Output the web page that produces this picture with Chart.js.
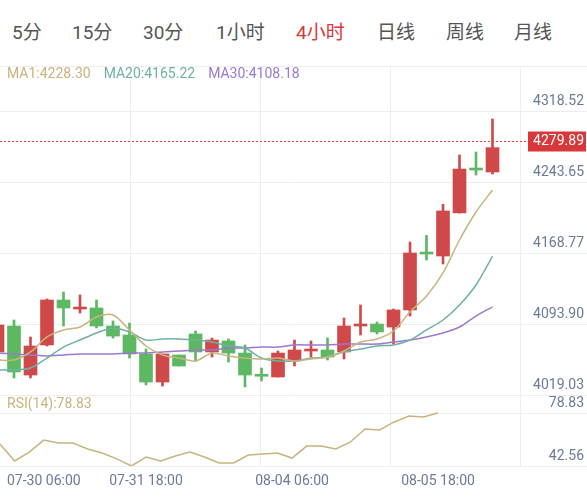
<!DOCTYPE html>
<html><head><meta charset="utf-8">
<script src="https://cdn.jsdelivr.net/npm/chart.js@4.4.0/dist/chart.umd.min.js"></script>
<style>
body{margin:0;background:#fff;width:587px;height:498px;overflow:hidden;font-family:Roboto,"Noto Sans CJK SC",sans-serif;position:relative}
#tabs span{position:absolute;top:17px;font-size:19px;color:#555;font-family:Roboto,"Noto Sans CJK SC",sans-serif}
#main{position:absolute;left:0;top:66px}
#rsi{position:absolute;left:0;top:395px}
</style></head><body>
<div id="tabs"></div>
<canvas id="main" width="587" height="329"></canvas>
<canvas id="rsi" width="587" height="103"></canvas>
<script>
const tabs=["5分","15分","30分","1小时","4小时","日线","周线","月线"];
const activeTab="4小时";
const open_ =[4064.4,4091.8,4040.1,4071.8,4119.2,4109.7,4110.8,4091.8,4082.3,4062.3,4032.7,4061.2,4083.4,4064.4,4076.0,4063.3,4040.0,4038.0,4054.9,4065.4,4066.5,4064.4,4091.8,4093.9,4090.7,4108.7,4168.8,4165.6,4211.1,4257.3,4254.2];
const close_=[4092.8,4043.3,4070.7,4119.2,4110.8,4111.8,4091.8,4081.2,4062.3,4032.7,4062.3,4049.6,4064.4,4077.0,4063.3,4040.1,4038.8,4063.3,4066.5,4066.5,4059.1,4091.8,4093.9,4085.5,4108.7,4168.8,4167.7,4213.1,4257.3,4256.3,4279.89];
const high_ =[4098.1,4098.1,4080.2,4120.3,4127.6,4124.5,4119.2,4097.1,4094.9,4067.5,4062.3,4061.2,4086.5,4079.1,4078.1,4071.8,4047.5,4065.4,4077.0,4076.0,4079.1,4100.2,4114.0,4096.0,4109.7,4180.4,4187.3,4220.1,4272.1,4275.3,4310.1];
const low_  =[4059.1,4037.0,4037.0,4070.7,4091.8,4105.5,4089.7,4079.1,4058.0,4029.6,4028.5,4049.6,4054.9,4059.1,4053.8,4027.5,4033.8,4038.0,4049.6,4059.1,4055.9,4057.0,4082.3,4083.4,4072.8,4102.3,4161.4,4157.2,4210.9,4251.0,4252.1];
const ma1 =[4055.9,4055.9,4064.4,4080.2,4087.6,4090.7,4101.3,4103.4,4087.6,4070.7,4061.2,4058.0,4054.9,4063.3,4060.2,4058.0,4057.0,4058.0,4054.9,4057.0,4059.1,4065.4,4074.9,4078.1,4086.5,4106.6,4123.4,4147.7,4182.5,4212.0,4235.2];
const ma20=[4045.4,4045.4,4047.5,4058.0,4069.6,4077.0,4084.4,4089.7,4085.5,4077.0,4078.1,4078.1,4077.0,4074.9,4070.7,4068.6,4058.0,4054.9,4054.9,4058.0,4059.1,4064.4,4067.5,4070.7,4071.8,4077.0,4087.6,4098.1,4113.9,4135.0,4165.2];
const ma30=[4063.3,4062.3,4061.2,4060.2,4061.2,4062.3,4062.3,4062.3,4063.3,4063.3,4064.4,4065.4,4066.5,4066.5,4068.6,4068.6,4069.6,4069.6,4071.8,4071.8,4071.8,4072.8,4072.8,4072.8,4074.9,4077.0,4080.2,4084.4,4090.7,4102.3,4112.0];
const rsi =[57.6,46.0,52.1,60.3,58.3,58.3,54.2,51.5,47.4,42.6,48.7,46.0,49.4,52.1,48.7,44.6,44.6,50.1,50.8,51.5,48.0,56.2,56.2,54.2,59.0,67.9,67.2,72.7,76.8,76.1,78.8];
const priceTicks=[4019.03,4093.90,4168.77,4243.65,4318.52];
const rsiTicks=[42.56,78.83];
const dateLabels=["07-30 06:00","07-31 18:00","08-04 06:00","08-05 18:00"];
const dateIdx=[3,10,20,30];
const lastPrice=4279.89;
const rsiLabel="RSI(14):78.83";
const legendMA=[["MA1:4228.30","#c8b47e"],["MA20:4165.22","#6fb0a6"],["MA30:4108.18","#9b79d0"]];

const tabX=[12,72,143,216,296,377,446,514];
const td=document.getElementById('tabs');
tabs.forEach((t,i)=>{const s=document.createElement('span');s.textContent=t;s.style.left=tabX[i]+'px';if(t===activeTab)s.style.color='#d9383a';td.appendChild(s);});

const RED='#d0494a',GREEN='#5db862';
const up=open_.map((o,i)=>close_[i]>=o);
const cols=up.map(u=>u?RED:GREEN);
const idx=open_.map((_,i)=>i);
const FONT='14px Roboto';
const AX='#6b7a99';

function gridPlugin(vx,vals,labels){return {id:'g',beforeDatasetsDraw(c){
  const ctx=c.ctx,a=c.chartArea,xs=c.scales.x,ys=c.scales.y;ctx.save();ctx.strokeStyle='#eeeeee';ctx.lineWidth=1;
  vals.forEach(v=>{const y=Math.round(ys.getPixelForValue(v))+0.5;ctx.beginPath();ctx.moveTo(a.left,y);ctx.lineTo(a.right,y);ctx.stroke();});
  vx.forEach(v=>{const x=Math.round(xs.getPixelForValue(v))+0.5;ctx.beginPath();ctx.moveTo(x,a.top);ctx.lineTo(x,a.bottom);ctx.stroke();});
  ctx.beginPath();ctx.moveTo(a.left,a.top+0.5);ctx.lineTo(a.right,a.top+0.5);ctx.stroke();
  ctx.restore();},
 afterDatasetsDraw(c){const ctx=c.ctx,ys=c.scales.y;ctx.save();ctx.font=FONT;ctx.fillStyle=AX;ctx.textAlign='right';ctx.textBaseline='middle';
  vals.forEach((v,i)=>{ctx.fillText(labels[i],584,ys.getPixelForValue(v)-10);});ctx.restore();}};}

const mainVx=[8.03,15.91,23.79,31.67];
new Chart(document.getElementById('main'),{
 data:{datasets:[
  {type:'bar',data:idx.map(i=>({x:i,y:[low_[i],high_[i]]})),backgroundColor:cols,barThickness:2,grouped:false,order:3},
  {type:'bar',data:idx.map(i=>({x:i,y:[Math.min(open_[i],close_[i]),Math.max(open_[i],close_[i])]})),backgroundColor:cols,barThickness:13,minBarLength:2,grouped:false,order:2},
  {type:'line',data:idx.map(i=>({x:i,y:ma1[i]})),borderColor:'#c8b47e',borderWidth:1.5,pointRadius:0,tension:0.3,order:1},
  {type:'line',data:idx.map(i=>({x:i,y:ma20[i]})),borderColor:'#6fb0a6',borderWidth:1.5,pointRadius:0,tension:0.3,order:1},
  {type:'line',data:idx.map(i=>({x:i,y:ma30[i]})),borderColor:'#9b79d0',borderWidth:1.5,pointRadius:0,tension:0.3,order:1}
 ]},
 options:{responsive:false,animation:false,layout:{padding:0},
  plugins:{legend:{display:false},tooltip:{enabled:false}},
  scales:{x:{type:'linear',offset:false,bounds:'ticks',min:0.1515,max:35.727,display:false},y:{min:4019.03,max:4366.0,display:false}}},
 plugins:[gridPlugin(mainVx,priceTicks,priceTicks.map(v=>v.toFixed(2))),{id:'extra',afterDraw(c){
  const ctx=c.ctx,ys=c.scales.y;ctx.save();
  const y=Math.round(ys.getPixelForValue(lastPrice)-7)+0.5;
  ctx.strokeStyle='#e0454a';ctx.setLineDash([2,2]);ctx.lineWidth=1;ctx.beginPath();ctx.moveTo(0,y);ctx.lineTo(587,y);ctx.stroke();ctx.setLineDash([]);
  ctx.fillStyle='#d9383a';ctx.fillRect(528,y-10,58,20);
  ctx.fillStyle='#fff';ctx.font=FONT;ctx.textAlign='right';ctx.textBaseline='middle';ctx.fillText(lastPrice.toFixed(2),584,y);
  ctx.textAlign='left';let x=7;
  legendMA.forEach(([t,col])=>{ctx.fillStyle=col;ctx.fillText(t,x,8);x+=ctx.measureText(t).width+13;});
  ctx.restore();}}]
});

const rIdx=rsi.map((_,i)=>i);
new Chart(document.getElementById('rsi'),{
 type:'line',
 data:{datasets:[{data:rIdx.map(i=>({x:i,y:rsi[i]})),borderColor:'#c8b47e',borderWidth:1.5,pointRadius:0,tension:0}]},
 options:{responsive:false,animation:false,layout:{padding:{bottom:32}},
  plugins:{legend:{display:false},tooltip:{enabled:false}},
  scales:{x:{type:'linear',min:0,max:40.2,display:false},y:{min:42.56,max:91.15,display:false}}},
 plugins:[gridPlugin([8.9,17.8,26.7,35.6],rsiTicks,rsiTicks.map(v=>v.toFixed(2))),{id:'rx',afterDraw(c){
  const ctx=c.ctx,xs=c.scales.x;ctx.save();ctx.font=FONT;ctx.textBaseline='middle';
  ctx.fillStyle='#c8b47e';ctx.textAlign='left';ctx.fillText(rsiLabel,7,9);
  ctx.fillStyle=AX;ctx.textAlign='center';
  dateLabels.forEach((t,i)=>{let x=xs.getPixelForValue(dateIdx[i]);x=Math.max(x,ctx.measureText(t).width/2+1);ctx.fillText(t,x,86);});
  ctx.restore();}}]
});
</script></body></html>
